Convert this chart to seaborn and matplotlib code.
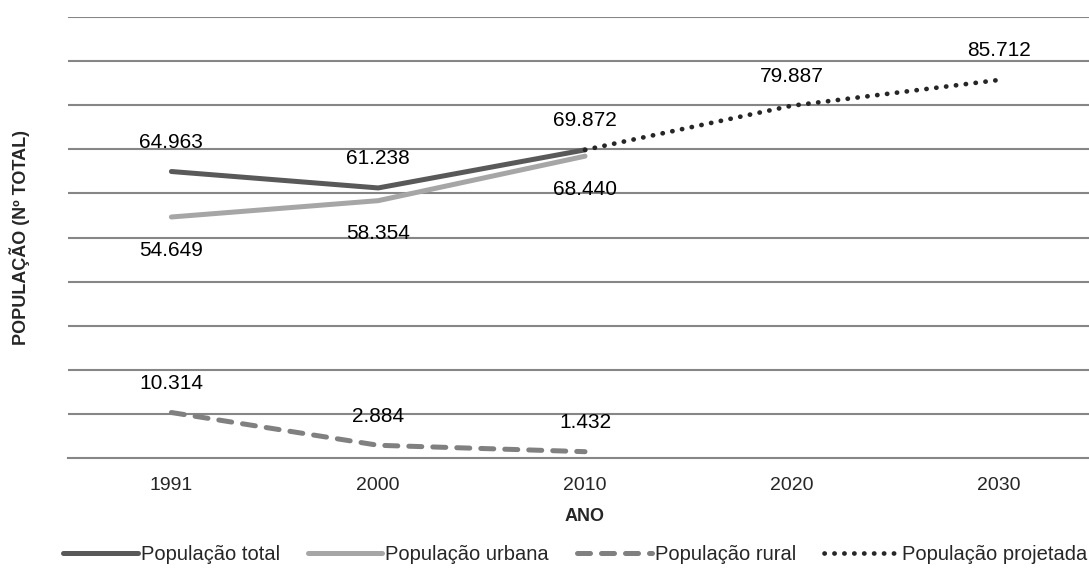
import numpy as np
import pandas as pd
import matplotlib.pyplot as plt
import seaborn as sns
from matplotlib.lines import Line2D

# Data (values in thousands, Brazilian-style decimal point labels)
anos = ['1991', '2000', '2010', '2020', '2030']
total = [64.963, 61.238, 69.872]
urbana = [54.649, 58.354, 68.440]
rural = [10.314, 2.884, 1.432]
projetada = [69.872, 79.887, 85.712]
anos_hist = ['1991', '2000', '2010']
anos_proj = ['2010', '2020', '2030']

pos = {a: i for i, a in enumerate(anos)}

sns.set_style('white')
plt.rcParams['font.family'] = ['Liberation Sans', 'DejaVu Sans']

fig = plt.figure(figsize=(10.89, 5.71), dpi=100)
ax = fig.add_axes([68 / 1089, 1 - 458 / 571, 1034 / 1089, 441 / 571])

df_hist = pd.DataFrame({'x': [pos[a] for a in anos_hist],
                        'total': total, 'urbana': urbana, 'rural': rural})
df_proj = pd.DataFrame({'x': [pos[a] for a in anos_proj], 'proj': projetada})

c_total, c_urb, c_rur, c_proj = '#595959', '#a6a6a6', '#808080', '#262626'

sns.lineplot(data=df_hist, x='x', y='urbana', color=c_urb, lw=3.6,
             solid_capstyle='round', ax=ax, zorder=3)
sns.lineplot(data=df_hist, x='x', y='total', color=c_total, lw=3.6,
             solid_capstyle='round', ax=ax, zorder=4)
sns.lineplot(data=df_hist, x='x', y='rural', color=c_rur, lw=3.6,
             linestyle=(0, (2.6, 2.2)), dash_capstyle='round', ax=ax, zorder=3)
sns.lineplot(data=df_proj, x='x', y='proj', color=c_proj, lw=3.4,
             linestyle=(0, (0.05, 2.05)), dash_capstyle='round', ax=ax, zorder=5)

def fmt(v):
    return f'{v:.3f}'

lab_kw = dict(textcoords='offset points', ha='center', va='center',
              fontsize=15, color='black')
for a, v in zip(anos_hist, total):
    ax.annotate(fmt(v), (pos[a], v), xytext=(0, 21), **lab_kw)
for a, v in zip(anos_hist, urbana):
    ax.annotate(fmt(v), (pos[a], v), xytext=(0, -24), **lab_kw)
for a, v in zip(anos_hist, rural):
    ax.annotate(fmt(v), (pos[a], v), xytext=(0, 21), **lab_kw)
for a, v in zip(anos_proj[1:], projetada[1:]):
    ax.annotate(fmt(v), (pos[a], v), xytext=(0, 21), **lab_kw)

ax.set_xlim(-0.5, len(anos) - 0.5)
ax.set_ylim(0, 100)
ax.set_yticks(np.arange(10, 101, 10))
ax.set_yticklabels([])
ax.tick_params(axis='y', length=0)
ax.grid(axis='y', color='#868686', lw=1.5)
ax.set_axisbelow(True)

ax.set_xticks(range(len(anos)))
ax.set_xticklabels(anos, fontsize=14)
ax.set_xticks(np.arange(-0.5, len(anos), 1), minor=True)
ax.tick_params(axis='x', which='major', length=0, pad=14)
ax.tick_params(axis='x', which='minor', length=5, width=1.2, color='#868686')

for s in ['top', 'right', 'left']:
    ax.spines[s].set_visible(False)
ax.spines['bottom'].set_color('#868686')
ax.spines['bottom'].set_linewidth(1.5)

ax.set_xlabel('ANO', fontsize=13, fontweight='bold', labelpad=10)
ax.set_ylabel('POPULAÇÃO (Nº TOTAL)', fontsize=13, fontweight='bold')
ax.yaxis.set_label_coords(-0.037, 0.5)

handles = [
    Line2D([], [], color=c_total, lw=3.6, solid_capstyle='round'),
    Line2D([], [], color=c_urb, lw=3.6, solid_capstyle='round'),
    Line2D([], [], color=c_rur, lw=3.6, linestyle=(0, (2.6, 2.2)),
           dash_capstyle='round'),
    Line2D([], [], color=c_proj, lw=3.4, linestyle=(0, (0.05, 2.05)),
           dash_capstyle='round'),
]
labels = ['População total', 'População urbana', 'População rural',
          'População projetada']
fig.legend(handles, labels, loc='center', bbox_to_anchor=(575 / 1089, 1 - 555 / 571),
           ncol=4, frameon=False, fontsize=14.5, handlelength=3.7,
           handletextpad=0.15, columnspacing=1.4)

fig.savefig('out.png', dpi=100)
